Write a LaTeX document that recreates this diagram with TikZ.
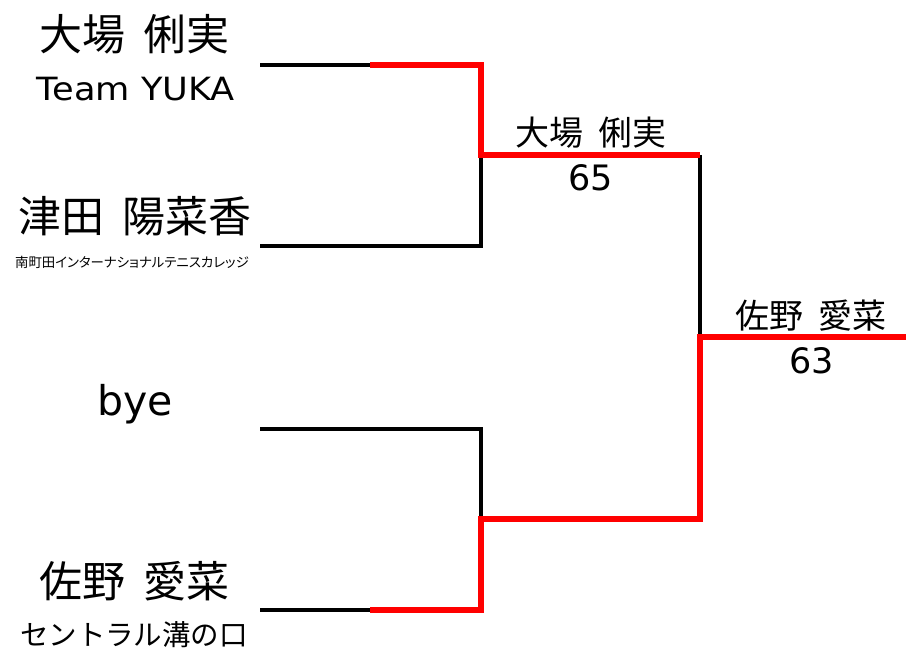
\documentclass[tikz,border=0pt]{standalone}
\usepackage{fontspec}
\setmainfont{Noto Sans CJK JP}
\newfontfamily\lat{DejaVu Sans}
\newfontfamily\latwide{DejaVu Sans}[FakeStretch=1.1]
\newfontfamily\cjkprop{Noto Sans CJK JP}[RawFeature=+palt]
\newcommand{\namegap}{\hspace{0.42em}}
\begin{document}
\begin{tikzpicture}[x=1pt,y=-1pt,
  txt/.style={inner sep=0pt,anchor=base},
  big/.style={txt,font=\fontsize{43}{43}\selectfont},
  mid/.style={txt,font=\fontsize{34}{34}\selectfont},
  latbig/.style={txt,font=\lat\fontsize{41}{41}\selectfont},
  latteam/.style={txt,font=\latwide\fontsize{32}{32}\selectfont},
  score/.style={txt,font=\lat\fontsize{35}{35}\selectfont},
  club/.style={txt,font=\fontsize{28.5}{28.5}\selectfont},
  small/.style={txt,font=\cjkprop\fontsize{13.4}{13.4}\selectfont},
  loser/.style={line width=3.3pt,black,line join=miter},
  winner/.style={line width=6pt,red,line join=miter}]
\useasboundingbox (0,0) rectangle (906,651);
% coordinates
\coordinate (p1) at (260,65);
\coordinate (p2) at (260,246);
\coordinate (p3) at (260,429);
\coordinate (p4) at (260,610);
\coordinate (h1) at (370,65);
\coordinate (h4) at (370,610);
\coordinate (c1) at (481,65);
\coordinate (c2) at (481,246);
\coordinate (c3) at (481,429);
\coordinate (c4) at (481,610);
\coordinate (m1) at (481,155);
\coordinate (m2) at (481,519);
\coordinate (r1) at (700,155);
\coordinate (r2) at (700,519);
\coordinate (f) at (700,337);
\coordinate (w) at (906,337);
% labels
\node[big] (n1) at (135,50) {大場\namegap 俐実};
\node[latteam] (t1) at (136,100) {Team YUKA};
\node[big] (n2) at (135,232) {津田\namegap 陽菜香};
\node[small] (t2) at (132,267) {南町田インターナショナルテニスカレッジ};
\node[latbig] (n3) at (135,415) {bye};
\node[big] (n4) at (135,597) {佐野\namegap 愛菜};
\node[club] (t4) at (134,645) {セントラル溝の口};
\node[mid] (s1) at (591,145) {大場\namegap 俐実};
\node[score] (sc1) at (591,190) {65};
\node[mid] (s2) at (811,328) {佐野\namegap 愛菜};
\node[score] (sc2) at (812,373) {63};
% black bracket lines
\draw[loser] (p1) -- (c1);
\draw[loser] (p2) -- (c2) -- (m1);
\draw[loser] (p3) -- (c3) -- (m2);
\draw[loser] (p4) -- (c4);
\draw[loser] (r1) -- (f);
\draw[loser] (m1) -- (r1);
\draw[loser] (m2) -- (r2) -- (f);
% winner path
\draw[winner] (h1) -- (c1) -- (m1) -- (r1);
\draw[winner] (h4) -- (c4) -- (m2) -- (r2) -- (f) -- (w);
\end{tikzpicture}
\end{document}
